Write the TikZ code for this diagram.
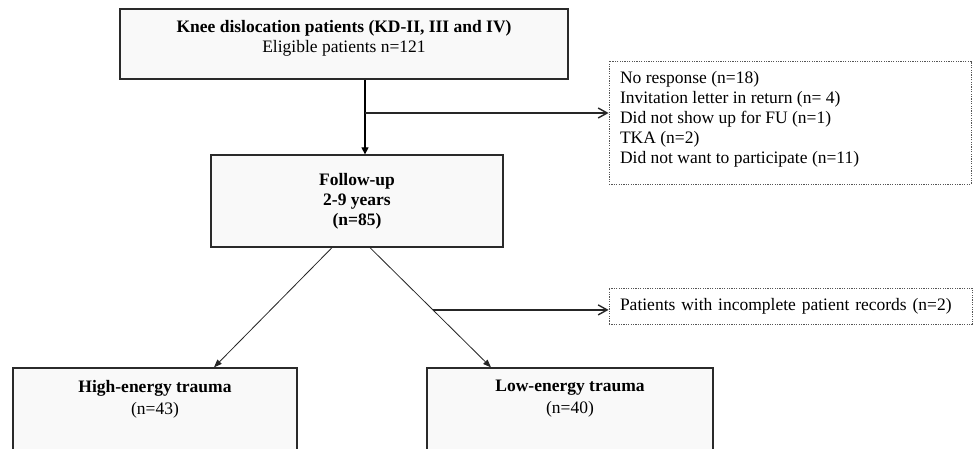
\documentclass[tikz,border=0pt]{standalone}
\usepackage{fontspec}
\setmainfont{Liberation Serif}
\usetikzlibrary{arrows.meta}
\definecolor{boxfill}{HTML}{F9F9F9}
\definecolor{boxline}{HTML}{2A2A2A}
\definecolor{dotline}{HTML}{555555}
\begin{document}
\begin{tikzpicture}[x=1pt,y=-1pt,
  font=\fontsize{17.5pt}{20pt}\selectfont,
  mainbox/.style={draw=boxline, fill=boxfill, line width=1.3pt, inner sep=0pt},
  notebox/.style={draw=dotline, fill=white, line width=0.9pt, dash pattern=on 1.2pt off 1.2pt, inner ysep=0pt, inner xsep=11pt},
  flow/.style={draw=black, line width=1.2pt, -{Triangle[length=7pt,width=7pt]}},
  diag/.style={draw=black!85, line width=0.8pt, -{Triangle[length=8pt,width=6pt]}},
  side/.style={draw=black!85, line width=1.4pt, -{Straight Barb[length=9pt,width=10pt]}}
]
\useasboundingbox (0,0) rectangle (973,448);
\fill[white] (0,0) rectangle (973,448);

\node[mainbox] (top) at (344,44) {\parbox[c][70pt][t]{448pt}{\centering\vspace*{11pt}\textbf{Knee dislocation patients (KD-II, III and IV)}\\Eligible patients n=121}};

\node[mainbox] (fu) at (357,201) {\parbox[c][92pt][t]{292pt}{\centering\bfseries\vspace*{18pt}Follow-up\\2-9 years\\(n=85)}};

\node[notebox] (ex1) at (790,122.5) {\parbox[c][123pt][t]{340pt}{\raggedright\vspace*{10pt}No response (n=18)\\Invitation letter in return (n= 4)\\Did not show up for FU (n=1)\\TKA (n=2)\\Did not want to participate (n=11)}};

\node[notebox, minimum height=36pt, text width=341pt, align=left] (ex2) at (790.5,306) {Patients with incomplete patient records (n=2)};

\node[mainbox] (high) at (155,410) {\parbox[c][84pt][t]{284pt}{\centering\vspace*{12pt}\textbf{High-energy trauma}\\[2pt](n=43)}};

\node[mainbox] (low) at (570,410) {\parbox[c][84pt][t]{286pt}{\centering\vspace*{12pt}\textbf{Low-energy trauma}\\[2pt](n=40)}};

\coordinate (ax) at (365,0);
\draw[flow] (top.south -| ax) -- (fu.north -| ax);
\coordinate (j1) at (365,113);
\draw[side] (j1) -- (j1 -| ex1.west);

\coordinate (dl) at (332,0);
\coordinate (dr) at (370,0);
\coordinate (hl) at (214,0);
\coordinate (lr) at (491,0);
\draw[diag] (fu.south -| dl) -- (high.north -| hl);
\draw[diag] (fu.south -| dr) -- (low.north -| lr) coordinate[pos=0.52] (j2);
\draw[side] (j2) -- (j2 -| ex2.west);
\end{tikzpicture}
\end{document}
